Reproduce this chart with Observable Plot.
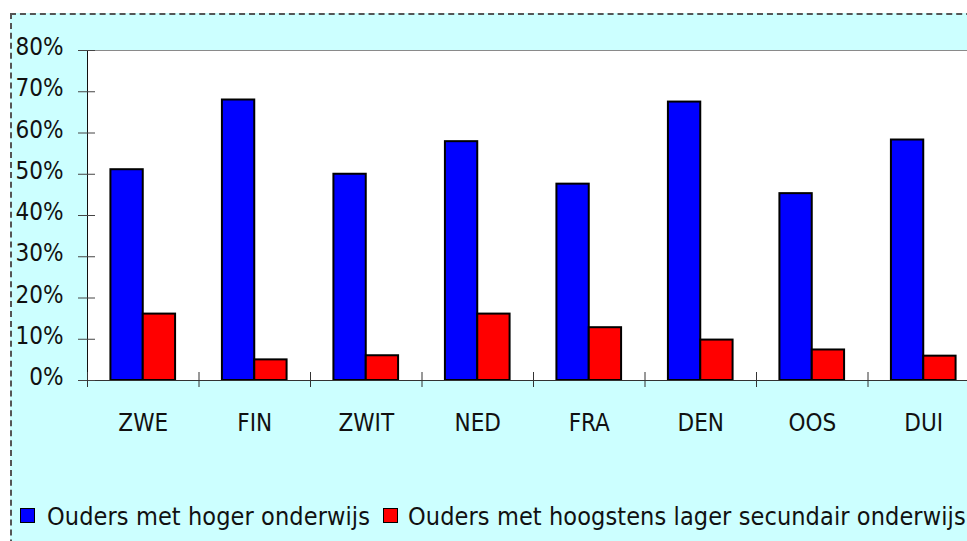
<!DOCTYPE html>
<html>
<head>
<meta charset="utf-8">
<script src="https://cdn.jsdelivr.net/npm/d3@7"></script>
<script src="https://cdn.jsdelivr.net/npm/@observablehq/plot@0.6"></script>
<style>
  html, body { margin: 0; padding: 0; background: #ffffff; overflow: hidden; width: 967px; height: 541px; }
  body { position: relative; font-family: "DejaVu Sans Condensed", "DejaVu Sans", sans-serif; font-stretch: condensed; color: #111; }
  #panel { position: absolute; left: 10px; top: 13px; width: 1000px; height: 600px; background: #ccffff;
           border-top: 2px dashed #555; border-left: 2px dashed #555; }
  #chart { position: absolute; left: 0; top: 0; }
  .sw { position: absolute; width: 15px; height: 15px; box-sizing: border-box; border: 1.5px solid #000; top: 508px; }
  .lt { position: absolute; top: 504px; font-size: 25px; line-height: 25px; white-space: nowrap; letter-spacing: 0.1px; }
</style>
</head>
<body>
<div id="panel"></div>
<div id="chart"></div>
<div id="legend"></div>
<script>
const countries = ["ZWE", "FIN", "ZWIT", "NED", "FRA", "DEN", "OOS", "DUI"];
const hoger = [51.1, 68.0, 50.0, 57.9, 47.6, 67.5, 45.3, 58.3];
const lager = [16.1, 5.0, 6.0, 16.1, 12.8, 9.8, 7.4, 5.9];
const seriesNames = ["Ouders met hoger onderwijs", "Ouders met hoogstens lager secundair onderwijs"];
const seriesColors = ["#0000ff", "#ff0000"];
const yTicks = [0, 10, 20, 30, 40, 50, 60, 70, 80];

const BAR = 0.29; // bar width as a fraction of a country slot
const rows = countries.flatMap((c, i) => [
  {i, country: c, series: seriesNames[0], value: hoger[i], side: -1},
  {i, country: c, series: seriesNames[1], value: lager[i], side: 0}
]);
const bounds = d3.range(countries.length + 1);
const centers = countries.map((c, i) => i + 0.5);

const fontFamily = "'DejaVu Sans Condensed', 'DejaVu Sans', sans-serif";

const chart = Plot.plot({
  width: 1000,
  height: 440,
  marginLeft: 87,
  marginRight: 21,
  marginTop: 50,
  marginBottom: 60,
  x: {domain: [0, countries.length], axis: null},
  y: {domain: [0, 80], axis: null},
  color: {domain: seriesNames, range: seriesColors},
  style: {background: "transparent", maxWidth: "none", fontFamily, fontStretch: "condensed", fontSize: "24px", color: "#111", overflow: "visible"},
  marks: [
    Plot.frame({fill: "white", stroke: "#8a8a8a"}),
    Plot.rectY(rows, {
      x1: d => d.i + 0.5 + d.side * BAR,
      x2: d => d.i + 0.5 + (d.side + 1) * BAR,
      y1: 0,
      y2: "value",
      fill: "series",
      stroke: "#000",
      strokeWidth: 2
    }),
    Plot.ruleY([0], {stroke: "#333"}),
    Plot.ruleX([0], {stroke: "#111"}),
    Plot.axisY({ticks: yTicks, tickSize: 17, dx: 8, fill: "none", stroke: "#444", label: null}),
    Plot.axisY({ticks: yTicks, tickSize: 0, tickPadding: 24, dy: -3, tickFormat: d => d + "%", fill: "#111", label: null}),
    Plot.axisX({ticks: bounds, tickSize: 15, dy: -8, fill: "none", stroke: "#333", label: null}),
    Plot.axisX({ticks: centers, tickSize: 0, tickPadding: 33, tickFormat: v => countries[Math.floor(v)], fill: "#111", label: null})
  ]
});
document.getElementById("chart").appendChild(chart);

// legend
const legend = document.getElementById("legend");
const swLeft = [19.5, 383];
const txtLeft = [47, 408];
seriesNames.forEach((name, k) => {
  const sw = document.createElement("div");
  sw.className = "sw";
  sw.style.left = swLeft[k] + "px";
  sw.style.background = seriesColors[k];
  legend.appendChild(sw);
  const t = document.createElement("div");
  t.className = "lt";
  t.style.left = txtLeft[k] + "px";
  t.textContent = name;
  legend.appendChild(t);
});
</script>
</body>
</html>
